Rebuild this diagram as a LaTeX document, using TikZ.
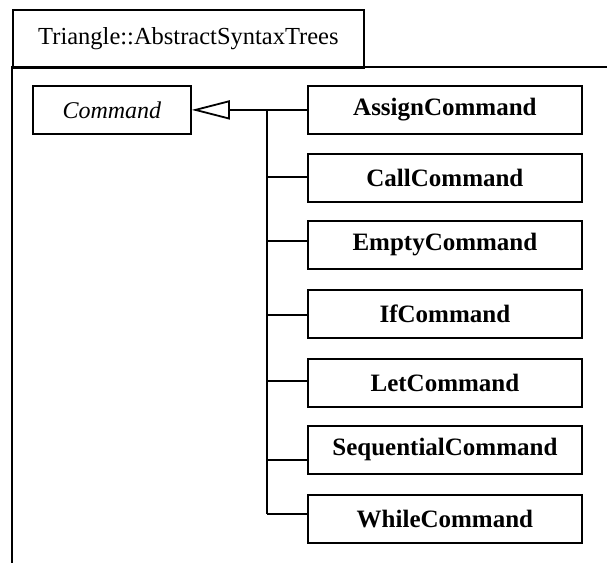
\documentclass[tikz,border=0pt]{standalone}
\usepackage{fontspec}
\setmainfont{Liberation Serif}
\usetikzlibrary{arrows.meta}
\tikzset{
  ln/.style={line width=1.8pt},
  cls/.style={draw, line width=1.8pt, inner sep=0pt, minimum width=274pt, minimum height=48pt, anchor=north west, font=\fontsize{25}{29}\selectfont\bfseries},
  absc/.style={draw, line width=1.8pt, inner sep=0pt, minimum width=158pt, minimum height=48pt, anchor=north west, font=\fontsize{24}{28}\selectfont\itshape},
  tabbox/.style={draw, line width=1.8pt, inner sep=0pt, minimum width=351pt, minimum height=58pt, anchor=north west, font=\fontsize{24.5}{28}\selectfont}
}
\begin{document}
\begin{tikzpicture}[x=1pt,y=-1pt]
\useasboundingbox (0,0) rectangle (607,563);
% package
\node[tabbox] (tab) at (12,9) {Triangle::AbstractSyntaxTrees};
\coordinate (ftl) at (12,67);
\coordinate (ftr) at (607,67);
\coordinate (fbl) at (12,563);
\draw[ln] (ftr) -- (ftl) -- (fbl);
% classes
\node[absc] (cmd) at (32,85) {Command};
\node[cls] (c1) at (307,85) {AssignCommand};
\node[cls] (c2) at (307,153) {CallCommand};
\node[cls] (c3) at (307,220) {EmptyCommand};
\node[cls] (c4) at (307,289) {IfCommand};
\node[cls] (c5) at (307,358) {LetCommand};
\node[cls] (c6) at (307,425) {SequentialCommand};
\node[cls] (c7) at (307,494) {WhileCommand};
% junctions
\coordinate (j1) at (267,109);
\coordinate (j2) at (267,177);
\coordinate (j3) at (267,241);
\coordinate (j4) at (267,315);
\coordinate (j5) at (267,381);
\coordinate (j6) at (267,460);
\coordinate (j7) at (267,514);
\draw[ln, -{Triangle[open, length=38pt, width=19pt, line width=1.8pt]}] (c1.west) -- (cmd.east);
\draw[ln] (j1) -- (j7);
\draw[ln] (j2) -- (j2 -| c2.west);
\draw[ln] (j3) -- (j3 -| c3.west);
\draw[ln] (j4) -- (j4 -| c4.west);
\draw[ln] (j5) -- (j5 -| c5.west);
\draw[ln] (j6) -- (j6 -| c6.west);
\draw[ln] (j7) -- (j7 -| c7.west);
\end{tikzpicture}
\end{document}
